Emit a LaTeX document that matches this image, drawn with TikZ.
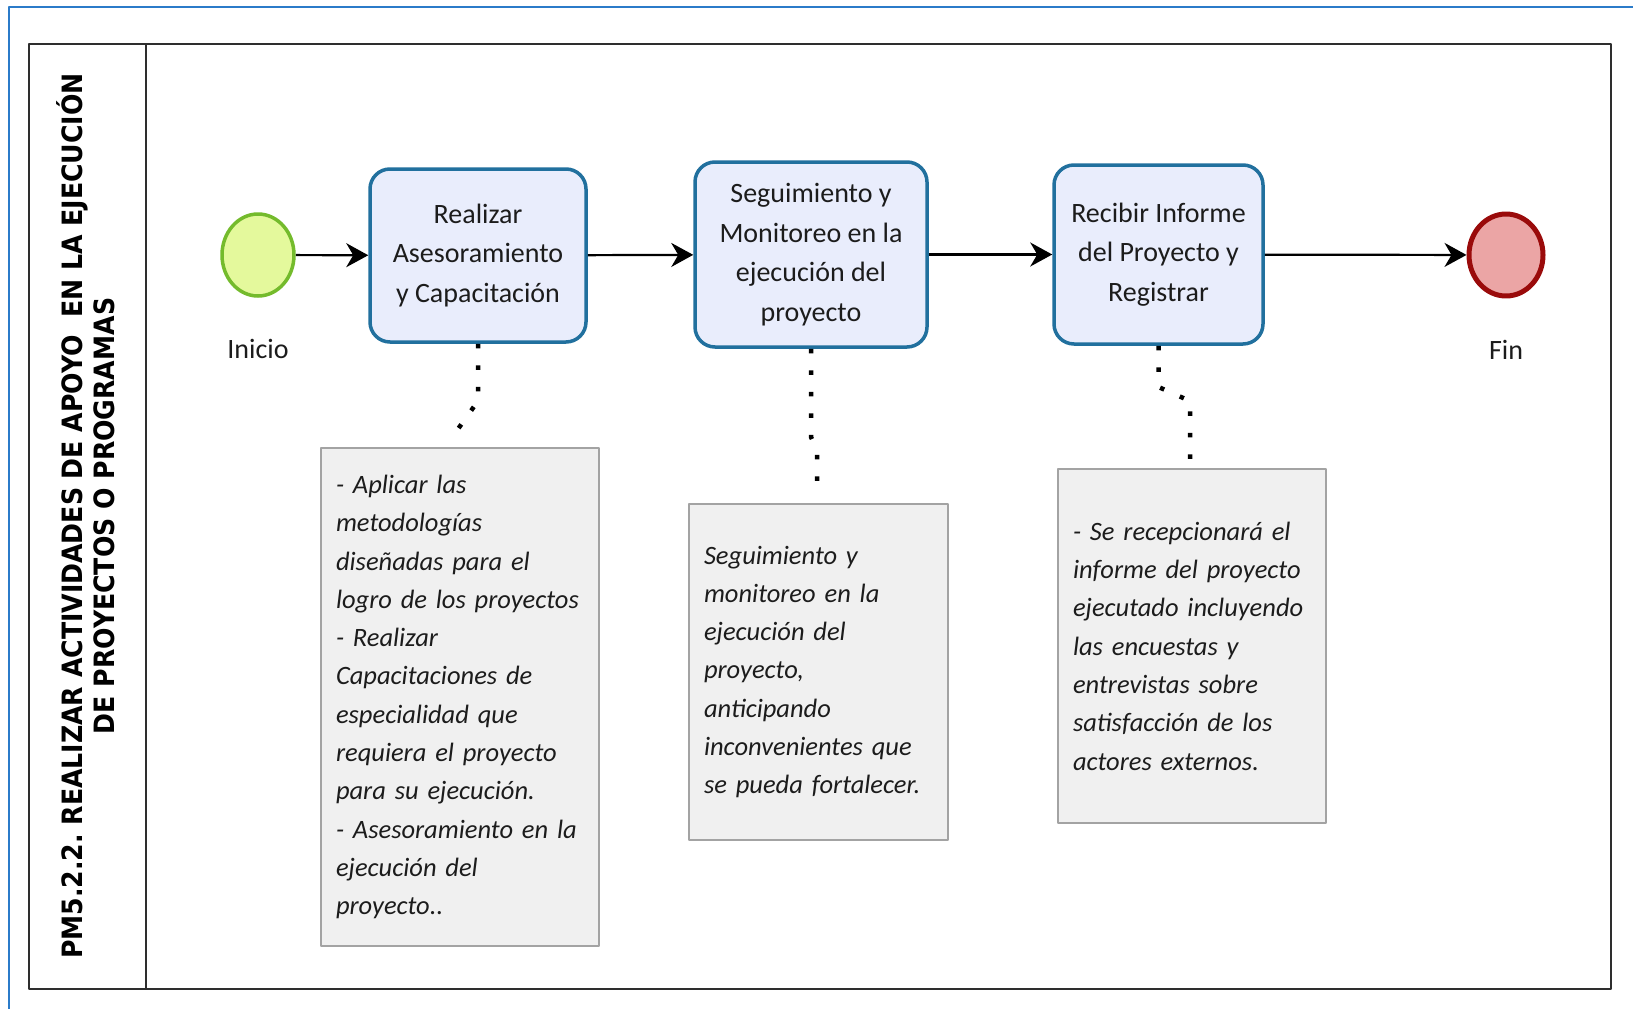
\documentclass[tikz,border=0pt]{standalone}
\usepackage{fontspec}
\setmainfont{Carlito}
\newfontfamily\lanefont{DejaVu Sans Condensed}
\usetikzlibrary{arrows.meta,positioning,shapes.geometric}
\definecolor{Frame}{HTML}{2B7BC9}
\definecolor{PoolLine}{HTML}{2E2E2E}
\definecolor{TaskFill}{HTML}{E9EDFC}
\definecolor{TaskLine}{HTML}{21709E}
\definecolor{StartFill}{HTML}{E4F99C}
\definecolor{StartLine}{HTML}{74BB2C}
\definecolor{EndFill}{HTML}{EBA5A5}
\definecolor{EndLine}{HTML}{9A0B0B}
\definecolor{NoteFill}{HTML}{F0F0F0}
\definecolor{NoteLine}{HTML}{A3A3A3}
\definecolor{Ink}{HTML}{1C1C1C}
\frenchspacing

\begin{document}
\begin{tikzpicture}[x=1pt,y=-1pt,line join=round,
    task/.style={draw=TaskLine,fill=TaskFill,line width=3.5pt,
      rounded corners=20pt,align=center,text=Ink,inner sep=0pt,
      font=\fontsize{28}{39.5}\selectfont},
    event/.style={ellipse,inner sep=0pt,minimum width=72pt,minimum height=82pt},
    eventlabel/.style={text=Ink,font=\fontsize{28}{34}\selectfont},
    note/.style={draw=NoteLine,fill=NoteFill,line width=2pt,align=left,
      text=Ink,inner xsep=15pt,inner ysep=0pt,
      font=\fontsize{26.5}{38.3}\selectfont\itshape},
    flow/.style={draw=black,line width=2.2pt,
      -{Stealth[length=22pt,width=24pt,inset=7pt]}},
    assoc/.style={line width=4.5pt,line cap=butt,
      dash pattern=on 4.5pt off 17pt}]
    \useasboundingbox (0,0) rectangle (1633,1009);
    \fill[white] (0,0) rectangle (1633,1009);

    % frame and pool
    \draw[Frame,line width=2.5pt] (1633,7) -- (9,7) -- (9,1009);
    \draw[PoolLine,line width=2.5pt] (29,44) rectangle (1611,989);
    \draw[PoolLine,line width=2.5pt] (146,44) -- (146,989);
    \node[rotate=90,align=center,text=black,
          font=\lanefont\bfseries\fontsize{28}{32}\selectfont]
      (lanetitle) at (86,516)
      {PM5.2.2. REALIZAR ACTIVIDADES DE APOYO\ \ EN LA EJECUCIÓN\\
       DE PROYECTOS O PROGRAMAS};

    % events and tasks
    \node[event,draw=StartLine,fill=StartFill,line width=3.5pt]
      (start) at (258,255) {};
    \node[eventlabel,below=38pt of start] (startlabel) {Inicio};
    \node[task,minimum width=216pt,minimum height=173pt]
      (task1) at (478,255.5) {Realizar\\Asesoramiento\\y Capacitación};
    \node[task,minimum width=232pt,minimum height=185pt]
      (task2) at (811,254.5)
      {Seguimiento y\\Monitoreo en la\\ejecución del\\proyecto};
    \node[task,minimum width=209pt,minimum height=179pt]
      (task3) at (1158.5,254.5) {Recibir Informe\\del Proyecto y\\Registrar};
    \node[event,draw=EndLine,fill=EndFill,line width=5pt,
          minimum width=74pt,minimum height=82pt]
      (end) at (1506,255) {};
    \node[eventlabel,below=38pt of end] (endlabel) {Fin};

    \draw[flow] (start) -- (task1);
    \draw[flow] (task1) -- (task2);
    \draw[flow] (task2) -- (task3);
    \draw[flow] (task3) -- (end);

    % annotations
    \node[note,minimum height=498pt,text width=248pt] (note1) at (460,697)
      {- Aplicar las\\metodologías\\diseñadas para el\\logro de los proyectos\\
       - Realizar\\Capacitaciones de\\especialidad que\\requiera el proyecto\\
       para su ejecución.\\- Asesoramiento en la\\ejecución del\\proyecto..};
    \node[note,minimum height=336pt,text width=229pt] (note2) at (818.5,672)
      {Seguimiento y\\monitoreo en la\\ejecución del\\proyecto,\\anticipando\\
       inconvenientes que\\se pueda fortalecer.};
    \node[note,minimum height=354pt,text width=238pt] (note3) at (1192,646)
      {- Se recepcionará el\\informe del proyecto\\ejecutado incluyendo\\
       las encuestas y\\entrevistas sobre\\satisfacción de los\\actores externos.};

    \coordinate (a1) at (478,401);
    \coordinate (a1end) at (458,429);
    \coordinate (a2) at (811,437);
    \coordinate (a2b) at (817,450);
    \coordinate (a2end) at (817,487);
    \coordinate (a3) at (1158.5,387);
    \coordinate (a3b) at (1190,401);
    \coordinate (a3end) at (1190,466);
    \draw[assoc] (task1.south) -- (a1) -- (a1end);
    \draw[assoc] (task2.south) -- (a2) -- (a2b) -- (a2end);
    \draw[assoc] (task3.south) -- (a3) -- (a3b) -- (a3end);
  \end{tikzpicture}
\end{document}
